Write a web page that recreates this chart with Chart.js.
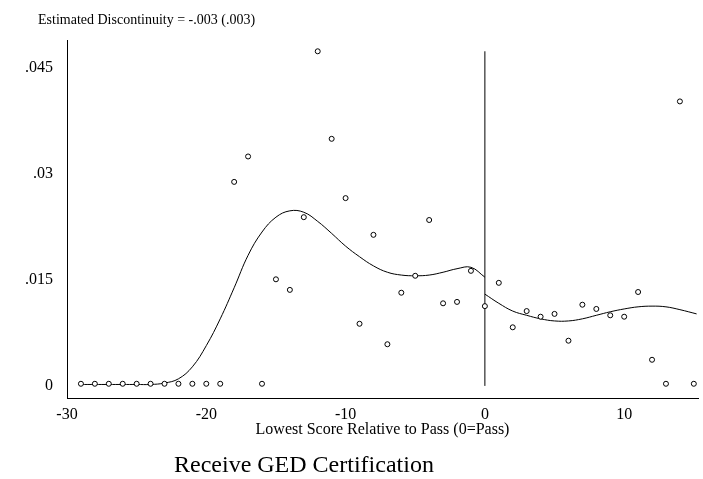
<!DOCTYPE html>
<html><head>
<script src="https://cdn.jsdelivr.net/npm/chart.js@4"></script>
<style>body{margin:0;background:#fff}#w{width:703px;height:479px}</style>
</head><body><div id="w"><canvas id="c"></canvas></div>
<script>
const scoreX = [-29,-28,-27,-26,-25,-24,-23,-22,-21,-20,-19,-18,-17,-16,-15,-14,-13,-12,-11,-10,-9,-8,-7,-6,-5,-4,-3,-2,-1,0,1,2,3,4,5,6,7,8,9,10,11,12,13,14,15];
const shares = [0.0003,0.0003,0.0003,0.0003,0.0003,0.0003,0.0003,0.0003,0.0003,0.0003,0.0003,0.0289,0.0325,0.0003,0.0151,0.0136,0.0239,0.0474,0.0350,0.0266,0.0088,0.0214,0.0059,0.0132,0.0156,0.0235,0.0117,0.0119,0.0163,0.0113,0.0146,0.0083,0.0106,0.0098,0.0102,0.0064,0.0115,0.0109,0.0100,0.0098,0.0133,0.0037,0.0003,0.0403,0.0003];
const fitLeftX = [-29,-28,-27,-26,-25,-24,-23,-22,-21,-20,-19,-18,-17,-16,-15,-14,-13,-12,-11,-10,-9,-8,-7,-6,-5,-4,-3,-2,-1,0];
const fitLeftY = [0.0002,0.0002,0.0002,0.0002,0.0002,0.0002,0.0004,0.0010,0.0027,0.0057,0.0095,0.0139,0.0185,0.0218,0.0239,0.0248,0.0246,0.0233,0.0216,0.0198,0.0183,0.0170,0.0161,0.0157,0.0156,0.0157,0.0161,0.0166,0.0168,0.0154];
const fitRightX = [0,1,2,3,4,5,6,7,8,9,10,11,12,13,14,15.2];
const fitRightY = [0.0130,0.0117,0.0106,0.0100,0.0095,0.0092,0.0092,0.0095,0.0100,0.0105,0.0109,0.0112,0.0113,0.0112,0.0108,0.0102];
const cutoffY = [0, 0.0474];
const yTicks = [0, 0.015, 0.03, 0.045];
const yTickLabels = {0:'0',0.015:'.015',0.03:'.03',0.045:'.045'};

const pts = (xs, ys) => xs.map((x, i) => ({x, y: ys[i]}));
const font = {family: 'Liberation Serif', size: 16};

const textPlugin = {
  id: 'texts',
  afterDraw(chart) {
    const ctx = chart.ctx;
    ctx.save();
    ctx.fillStyle = '#000';
    ctx.font = '14px "Liberation Serif"';
    ctx.textBaseline = 'alphabetic';
    ctx.fillText('Estimated Discontinuity = -.003 (.003)', 38, 24);
    ctx.font = '24px "Liberation Serif"';
    ctx.fillText('Receive GED Certification', 174, 472);
    ctx.restore();
  }
};

new Chart(document.getElementById('c'), {
  type: 'scatter',
  data: {
    datasets: [
      {data: pts(scoreX, shares), pointRadius: 2.5, pointBorderWidth: 1, borderColor: '#000', backgroundColor: '#fff', showLine: false},
      {data: pts(fitLeftX, fitLeftY), showLine: true, borderColor: '#000', borderWidth: 1, pointRadius: 0, tension: 0.4},
      {data: pts(fitRightX, fitRightY), showLine: true, borderColor: '#000', borderWidth: 1, pointRadius: 0, tension: 0.4},
      {data: pts([0, 0], cutoffY), showLine: true, borderColor: '#000', borderWidth: 1, pointRadius: 0}
    ]
  },
  options: {
    responsive: true, maintainAspectRatio: false, animation: false,
    layout: {padding: {top: 40, right: 0, bottom: 40, left: 17}},
    plugins: {legend: {display: false}, tooltip: {enabled: false}},
    scales: {
      x: {
        type: 'linear', min: -30, max: 15.3,
        afterBuildTicks: a => { a.ticks = [-30, -20, -10, 0, 10].map(v => ({value: v})); },
        ticks: {font, color: '#000', padding: 1, callback: v => String(v)},
        grid: {display: false, drawTicks: true, tickLength: 6, color: '#000'},
        border: {color: '#000'},
        title: {display: true, text: 'Lowest Score Relative to Pass (0=Pass)', font, color: '#000', padding: {top: -6, bottom: 0}}
      },
      y: {
        min: -0.0018, max: 0.049,
        afterBuildTicks: a => { a.ticks = yTicks.map(v => ({value: v})); },
        ticks: {font, color: '#000', padding: 8, callback: v => yTickLabels[v]},
        grid: {display: false, drawTicks: true, tickLength: 6, color: '#000'},
        border: {color: '#000'}
      }
    }
  },
  plugins: [textPlugin]
});
</script></body></html>
